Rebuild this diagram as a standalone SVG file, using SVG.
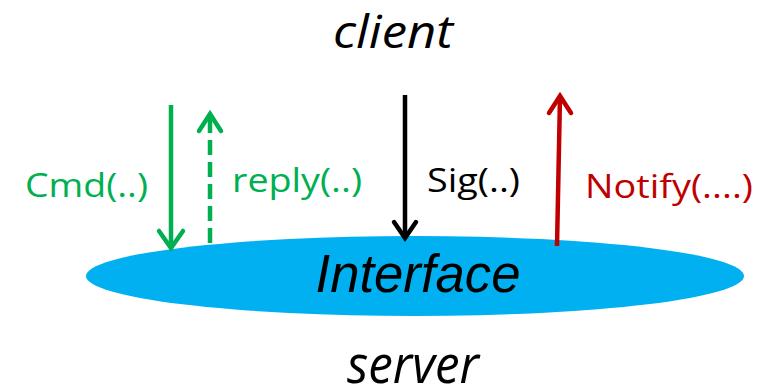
<svg xmlns="http://www.w3.org/2000/svg" width="774" height="391" viewBox="0 0 774 391">
<style>
.lbl{font-family:"Open Sans","Liberation Sans",sans-serif;font-size:33px}
.it{font-family:"Open Sans","Liberation Sans",sans-serif;font-style:italic;fill:#000;text-anchor:middle}
.ar{font-family:"Liberation Sans",Arial,sans-serif;font-style:italic;font-size:53px;fill:#000;text-anchor:middle}
.ln{fill:none;stroke-width:4.5}
.hd{fill:none;stroke-width:4.5;stroke-linecap:round;stroke-linejoin:miter}
</style>
<rect width="774" height="391" fill="#fff"/>
<g id="client"><text class="it" x="393" y="48" font-size="45" textLength="120" lengthAdjust="spacingAndGlyphs">client</text></g>
<g id="server"><text class="it" x="413" y="383" font-size="53" textLength="132" lengthAdjust="spacingAndGlyphs">server</text></g>
<g id="interface">
<ellipse cx="415" cy="276" rx="329" ry="40" fill="#00B0F0"/>
<text class="ar" x="418" y="292" textLength="205" lengthAdjust="spacingAndGlyphs">Interface</text>
</g>
<g id="connectors">
<g id="cmd">
<line class="ln" x1="171" y1="105" x2="171" y2="247" stroke="#00B050"/>
<polyline class="hd" points="159,231 171,248 183,231" stroke="#00B050"/>
<text class="lbl" x="25" y="197" fill="#00B050" textLength="123" lengthAdjust="spacingAndGlyphs">Cmd(..)</text>
</g>
<g id="reply">
<line class="ln" x1="210" y1="243" x2="210" y2="116" stroke="#00B050" stroke-dasharray="15,7"/>
<polyline class="hd" points="199,131 210,114 221,131" stroke="#00B050"/>
<text class="lbl" x="232" y="192" fill="#00B050" textLength="130" lengthAdjust="spacingAndGlyphs">reply(..)</text>
</g>
<g id="sig">
<line class="ln" x1="405" y1="95" x2="405" y2="237" stroke="#000"/>
<polyline class="hd" points="394,222 405,238 416,222" stroke="#000"/>
<text class="lbl" x="427" y="192" fill="#000" textLength="93" lengthAdjust="spacingAndGlyphs">Sig(..)</text>
</g>
<g id="notify">
<line class="ln" x1="557" y1="246" x2="560" y2="97" stroke="#C00000"/>
<polyline class="hd" points="549,113 560,96 571,113" stroke="#C00000"/>
<text class="lbl" x="585" y="198" fill="#C00000" textLength="168" lengthAdjust="spacingAndGlyphs">Notify(....)</text>
</g>
</g>
</svg>
